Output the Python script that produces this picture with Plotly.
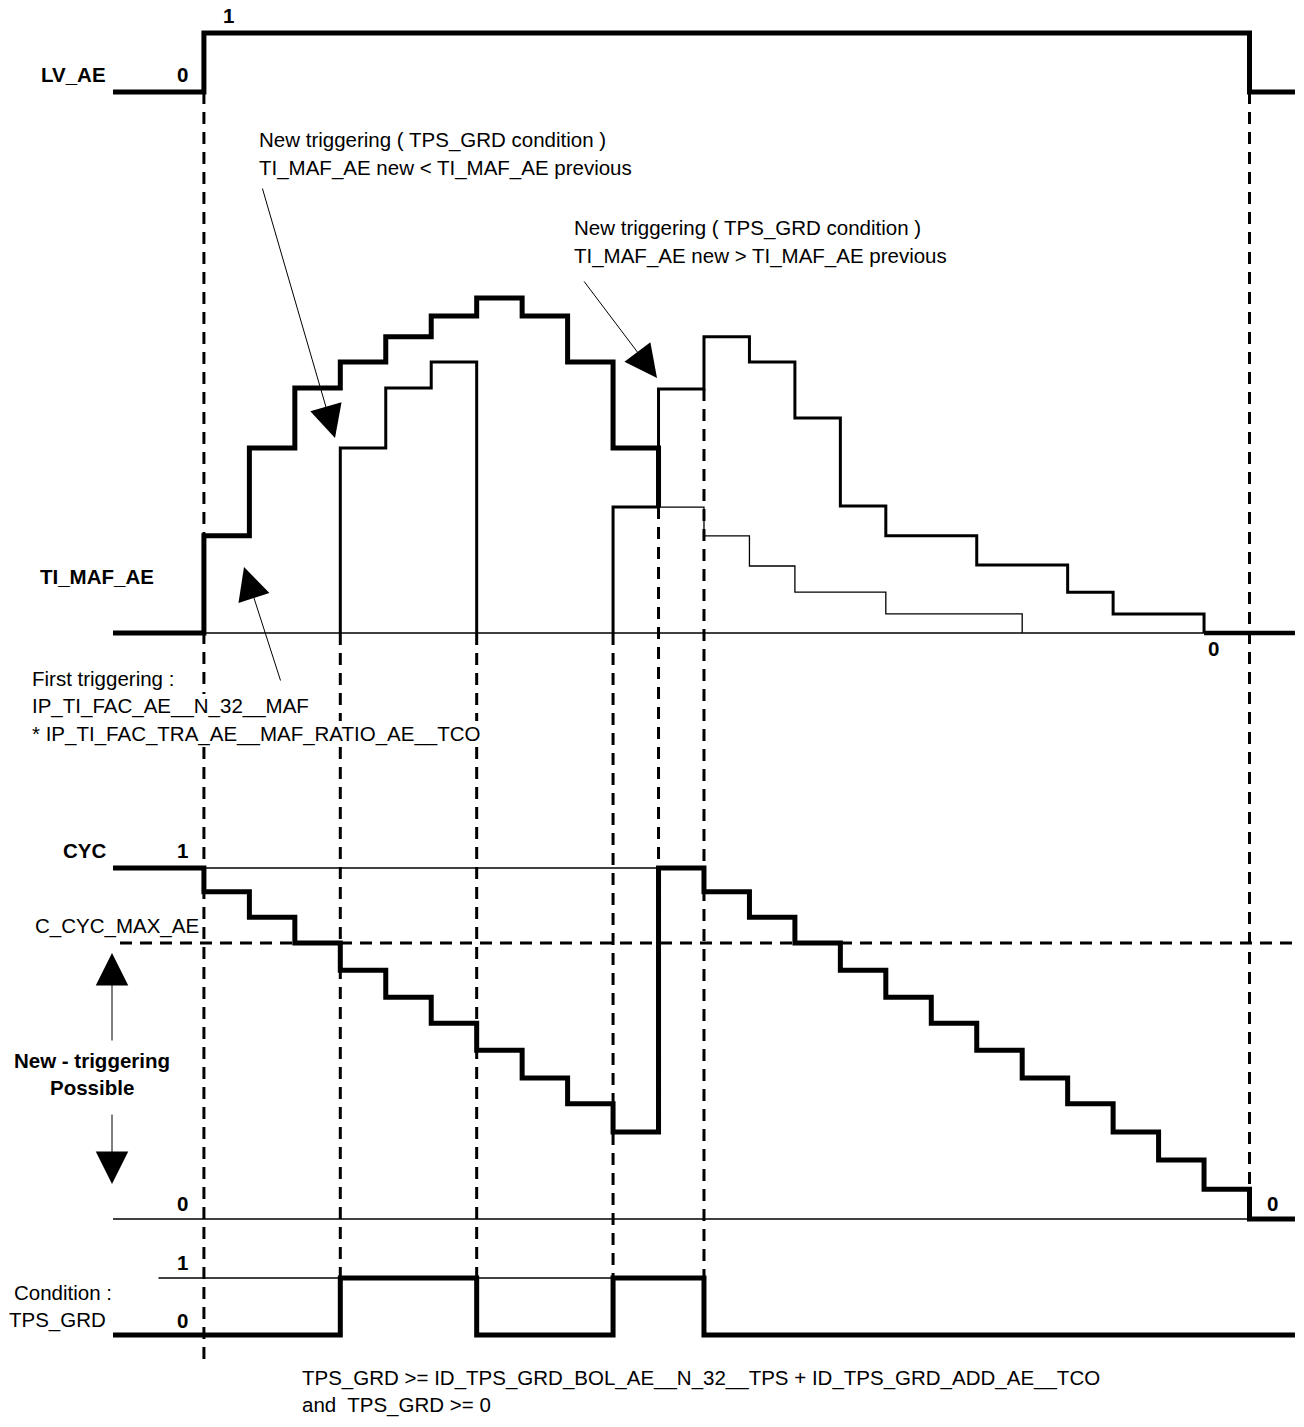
import plotly.graph_objects as go

W, H = 1304, 1427

# ---------------- data (time in sampling periods) ----------------
lv_t = [-2, 0, 23, 24]
lv_v = [0, 1, 0, 0]

# TI_MAF_AE (arbitrary units)
ti_first_t = [-2, 0, 1, 2, 3, 4, 5, 6, 7, 8, 9, 10]
ti_first_v = [0, 2.9, 5.52, 7.31, 8.09, 8.84, 9.46, 10.0, 9.46, 8.09, 5.52, 3.76]
ti_second_t = [3, 3, 4, 5, 6]
ti_second_v = [0, 5.52, 7.31, 8.09, 0]
ti_third_t = [9, 9, 10, 11, 12, 13, 14, 15, 17, 19, 20, 22]
ti_third_v = [0, 3.76, 7.28, 8.84, 8.09, 6.42, 3.79, 2.9, 2.03, 1.22, 0.57, 0]
ti_prev_t = [10, 11, 12, 13, 15, 18]
ti_prev_v = [3.76, 2.9, 2.0, 1.22, 0.57, 0]
ti_end_t = [22, 24]
ti_end_v = [0, 0]

# CYC (fraction)
cyc_t = [-2, 0, 1, 2, 3, 4, 5, 6, 7, 8, 9, 10, 11, 12, 13, 14, 15, 16, 17, 18,
         19, 20, 21, 22, 23, 24]
cyc_v = [1.0, 0.932, 0.860, 0.786, 0.709, 0.632, 0.558, 0.481, 0.402, 0.328,
         0.248, 1.0, 0.932, 0.860, 0.786, 0.709, 0.632, 0.558, 0.481, 0.402,
         0.328, 0.248, 0.168, 0.085, 0.0, 0.0]
c_cyc_max = 0.786

# TPS_GRD condition
tps_t = [-2, 3, 6, 9, 11, 24]
tps_v = [0, 1, 0, 1, 0, 0]

# event markers (dashed verticals)
event_t = [0, 3, 6, 9, 10, 11, 23]

# ---------------- geometry ----------------
X0_PX, STEP_PX = 113, 45.46          # pixel of t=-2, pixels per period
t_left = -2 - X0_PX / STEP_PX
t_right = t_left + W / STEP_PX
def tx(px):
    return t_left + px / STEP_PX

# lane: (zero pixel row, pixels per unit)
LANES = {"y2": (92, 59), "y3": (633, 33.5), "y4": (1219, 351), "y5": (1335, 57)}
def lane_range(z, u):
    return [(z - H) / u, z / u]
def fy(py):
    return 1 - py / H

FONT = "Liberation Sans, Arial, sans-serif"
FS = 20.5
BLK = "black"

fig = go.Figure()

def step(t, v, yax, width):
    fig.add_trace(go.Scatter(x=t, y=v, xaxis="x", yaxis=yax, mode="lines",
                             line=dict(color=BLK, width=width, shape="hv"),
                             hoverinfo="skip", showlegend=False))

def flat(t0, t1, v, yax, width, dash=None):
    fig.add_trace(go.Scatter(x=[t0, t1], y=[v, v], xaxis="x", yaxis=yax, mode="lines",
                             line=dict(color=BLK, width=width, dash=dash),
                             hoverinfo="skip", showlegend=False))

# thin reference lines
flat(0, 24, 0, "y3", 1.3)
flat(0, 10, 1, "y4", 1.3)
flat(-2, 23, 0, "y4", 1.3)
flat(-1, 3, 1, "y5", 1.3)
flat(6, 9, 1, "y5", 1.3)
flat(tx(120), 24, c_cyc_max, "y4", 3, dash="12px,8px")

# signals
step(lv_t, lv_v, "y2", 5)
step(ti_prev_t, ti_prev_v, "y3", 1.3)
step(ti_second_t, ti_second_v, "y3", 3)
step(ti_third_t, ti_third_v, "y3", 3)
step(ti_first_t, ti_first_v, "y3", 5)
step(ti_end_t, ti_end_v, "y3", 4.5)
step(cyc_t, cyc_v, "y4", 5)
step(tps_t, tps_v, "y5", 5)

# dashed event verticals (pixel spans), interrupted behind the text block
spans = {0: [(92, 694), (747, 1366)],
         3: [(633, 721), (747, 1278)],
         6: [(633, 721), (747, 1278)],
         9: [(633, 1278)],
         10: [(507, 868)],
         11: [(389, 1278)],
         23: [(92, 1219)]}
for t in event_t:
    for a, b in spans[t]:
        fig.add_shape(type="line", xref="x", yref="paper", x0=t, x1=t,
                      y0=fy(a), y1=fy(b), layer="below",
                      line=dict(color=BLK, width=3, dash="12px,8px"))

# ---------------- text ----------------
def label(txt, px, py, anchor="left", bold=False):
    fig.add_annotation(text=f"<b>{txt}</b>" if bold else txt, xref="paper", yref="paper",
                       x=px / W, y=fy(py), xanchor=anchor, yanchor="middle",
                       showarrow=False, font=dict(family=FONT, size=FS, color=BLK))

label("LV_AE", 108, 74, "right", True)
label("0", 182, 74, "center", True)
label("1", 228, 15, "center", True)

label("New triggering ( TPS_GRD condition )", 257, 140)
label("TI_MAF_AE new < TI_MAF_AE previous", 257, 168)
label("New triggering ( TPS_GRD condition )", 572, 228)
label("TI_MAF_AE new > TI_MAF_AE previous", 572, 256)

label("TI_MAF_AE", 38, 577, "left", True)
label("0", 1213, 648, "center", True)
label("First triggering :", 30, 678)
label("IP_TI_FAC_AE__N_32__MAF", 30, 706)
label("* IP_TI_FAC_TRA_AE__MAF_RATIO_AE__TCO", 30, 734)

label("CYC", 108, 850, "right", True)
label("1", 182, 850, "center", True)
label("C_CYC_MAX_AE", 33, 926)
label("New - triggering", 92, 1060, "center", True)
label("Possible", 92, 1087, "center", True)
label("0", 182, 1203, "center", True)
label("0", 1272, 1203, "center", True)

label("1", 182, 1262, "center", True)
label("Condition :", 63, 1292, "center")
label("0", 182, 1320, "center", True)
label("TPS_GRD", 57, 1320, "center")
label("TPS_GRD >= ID_TPS_GRD_BOL_AE__N_32__TPS + ID_TPS_GRD_ADD_AE__TCO", 300, 1378)
label("and  TPS_GRD >= 0", 300, 1405)

# ---------------- arrows ----------------
def arrow(tip, tail):
    fig.add_annotation(text="", xref="paper", yref="paper",
                       x=tip[0] / W, y=fy(tip[1]),
                       ax=tail[0] - tip[0], ay=tail[1] - tip[1],
                       showarrow=True, arrowhead=2, arrowsize=6.5, arrowwidth=1,
                       arrowcolor=BLK, standoff=0)

arrow((335, 438), (262, 187))
arrow((657, 378), (583, 280))
arrow((244, 567), (281, 682))
arrow((112, 953), (112, 1042))
arrow((112, 1184), (112, 1113))

# ---------------- layout ----------------
hidden = dict(visible=False, showgrid=False, zeroline=False, fixedrange=True)
layout = dict(
    width=W, height=H, margin=dict(l=0, r=0, t=0, b=0),
    paper_bgcolor="white", plot_bgcolor="rgba(0,0,0,0)", showlegend=False,
    xaxis=dict(range=[t_left, t_right], domain=[0, 1], **hidden),
    yaxis=dict(range=[H, 0], domain=[0, 1], **hidden),
)
for name, (z, u) in LANES.items():
    layout["yaxis" + name[1:]] = dict(range=lane_range(z, u), overlaying="y",
                                      anchor="x", **hidden)
fig.update_layout(**layout)

fig.write_html("out.html", config={"displayModeBar": False},
               post_script="document.body.style.margin='0';document.body.style.overflow='hidden';")
